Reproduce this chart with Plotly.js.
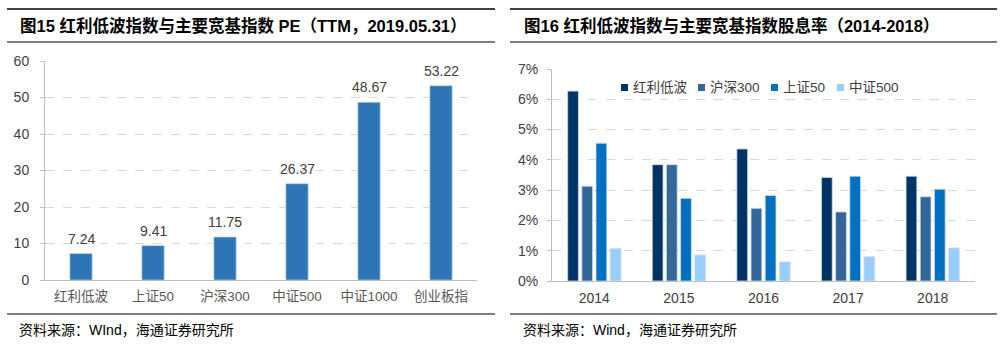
<!DOCTYPE html>
<html><head><meta charset="utf-8">
<script src="https://cdn.plot.ly/plotly-3.0.1.min.js"></script>
<style>html,body{margin:0;padding:0;background:#fff}#c{width:1008px;height:353px}</style>
</head><body><div id="c"></div>
<script>
// Left chart: PE (TTM, 2019.05.31)
const peCategories = ['红利低波','上证50','沪深300','中证500','中证1000','创业板指'];
const peValues = [7.24, 9.41, 11.75, 26.37, 48.67, 53.22];
const peTicks = [0,10,20,30,40,50,60];

// Right chart: dividend yield 2014-2018 (%)
const years = ['2014','2015','2016','2017','2018'];
const divSeriesNames = ['红利低波','沪深300','上证50','中证500'];
const divHongli = [6.27, 3.84, 4.36, 3.42, 3.46];
const divHS300 = [3.13, 3.84, 2.40, 2.28, 2.78];
const divSZ50 = [4.55, 2.73, 2.82, 3.46, 3.03];
const divZZ500 = [1.07, 0.86, 0.63, 0.80, 1.09];
const divTicks = [0,1,2,3,4,5,6,7];
const divTickText = divTicks.map(v => v + '%');

const divColors = ['#003366','#336699','#0070C0','#99CCFF'];
const cjk = '"Liberation Sans", Arial, "Noto Sans CJK SC", sans-serif';
const W = 1008, H = 353;
const px = x => x / W, py = y => (H - y) / H;

const traces = [{
  type:'bar', x: peCategories, y: peValues, xaxis:'x', yaxis:'y',
  marker:{color:'#2E75B6', line:{color:'#BDD7EE', width:0.6}},
  width: 0.31, showlegend:false, hoverinfo:'skip'
}];
const divData = [divHongli, divHS300, divSZ50, divZZ500];
divData.forEach((vals, i) => {
  traces.push({
    type:'bar', x: years, y: vals, name: divSeriesNames[i], xaxis:'x2', yaxis:'y2',
    marker:{color: divColors[i], line:{color:'#D0DCEA', width:0.8}},
    showlegend:false, hoverinfo:'skip'
  });
});

// value labels above PE bars
const peLabels = peCategories.map((c, i) => ({xref:'x', yref:'y', x:c, y:peValues[i],
  xanchor:'center', yanchor:'bottom', yshift:5, showarrow:false,
  text:peValues[i].toFixed(2), font:{family:cjk, size:14, color:'#404040'}}));

const axisCommon = {
  showline:true, linecolor:'#BFBFBF', linewidth:1, zeroline:false,
  tickfont:{family:cjk, size:14, color:'#404040'}, fixedrange:true
};

// manual legend (positions in px)
const legendMarkerX = [621, 698, 771, 837];
const legendShapes = divColors.map((c, i) => ({type:'rect', xref:'paper', yref:'paper',
  x0:px(legendMarkerX[i]), x1:px(legendMarkerX[i] + 7), y0:py(84), y1:py(91),
  fillcolor:c, line:{width:0}}));
const legendTexts = divSeriesNames.map((n, i) => ({xref:'paper', yref:'paper',
  x:px(legendMarkerX[i] + 10), y:py(87.5), xanchor:'left', yanchor:'middle', showarrow:false,
  text:n, font:{family:cjk, size:13.5, color:'#404040'}}));

const layout = {
  width:W, height:H, margin:{l:0,r:0,t:0,b:0},
  paper_bgcolor:'#fff', plot_bgcolor:'#fff',
  barmode:'group', bargap:0.33, bargroupgap:0.24,
  font:{family:cjk}, showlegend:false,
  xaxis:Object.assign({}, axisCommon, {domain:[px(45), px(477)], anchor:'y', ticks:'',
    tickfont:{family:cjk, size:13.5, color:'#595959'}, ticklabelstandoff:4}),
  yaxis:Object.assign({}, axisCommon, {domain:[py(280), py(61)], anchor:'x', range:[0,60],
    tickvals:peTicks, showgrid:true, gridcolor:'#D9D9D9', griddash:'dash', gridwidth:1,
    ticks:'outside', ticklen:4, tickcolor:'#BFBFBF', ticklabelstandoff:8}),
  xaxis2:Object.assign({}, axisCommon, {domain:[px(552), px(975)], anchor:'y2', ticks:'', ticklabelstandoff:4}),
  yaxis2:Object.assign({}, axisCommon, {domain:[py(281), py(69)], anchor:'x2', range:[0,7],
    tickvals:divTicks, ticktext:divTickText, showgrid:true, gridcolor:'#D9D9D9', griddash:'dash', gridwidth:1,
    ticks:'outside', ticklen:4, tickcolor:'#BFBFBF', ticklabelstandoff:6}),
  shapes:[
    {type:'line', xref:'paper', yref:'paper', x0:px(7), x1:px(495), y0:py(9), y1:py(9), line:{color:'#000', width:1.5}},
    {type:'line', xref:'paper', yref:'paper', x0:px(7), x1:px(495), y0:py(42), y1:py(42), line:{color:'#000', width:1.2}},
    {type:'line', xref:'paper', yref:'paper', x0:px(7), x1:px(495), y0:py(314), y1:py(314), line:{color:'#000', width:1.2}},
    {type:'line', xref:'paper', yref:'paper', x0:px(510), x1:px(997), y0:py(9), y1:py(9), line:{color:'#000', width:1.5}},
    {type:'line', xref:'paper', yref:'paper', x0:px(510), x1:px(997), y0:py(42), y1:py(42), line:{color:'#000', width:1.2}},
    {type:'line', xref:'paper', yref:'paper', x0:px(510), x1:px(997), y0:py(314), y1:py(314), line:{color:'#000', width:1.2}}
  ].concat(legendShapes),
  annotations:[
    {xref:'paper', yref:'paper', x:px(18), y:py(25), xanchor:'left', yanchor:'middle', showarrow:false,
     text:'<b>图15 红利低波指数与主要宽基指数 PE（TTM，2019.05.31）</b>',
     font:{family:cjk, size:16.5, color:'#000'}},
    {xref:'paper', yref:'paper', x:px(522), y:py(25), xanchor:'left', yanchor:'middle', showarrow:false,
     text:'<b>图16 红利低波指数与主要宽基指数股息率（2014-2018）</b>',
     font:{family:cjk, size:16.5, color:'#000'}},
    {xref:'paper', yref:'paper', x:px(17), y:py(330), xanchor:'left', yanchor:'middle', showarrow:false,
     text:'资料来源：WInd，海通证券研究所', font:{family:cjk, size:14, color:'#000'}},
    {xref:'paper', yref:'paper', x:px(521), y:py(330), xanchor:'left', yanchor:'middle', showarrow:false,
     text:'资料来源：Wind，海通证券研究所', font:{family:cjk, size:14, color:'#000'}}
  ].concat(legendTexts, peLabels)
};
Plotly.newPlot('c', traces, layout, {staticPlot:true, displayModeBar:false});
</script></body></html>
